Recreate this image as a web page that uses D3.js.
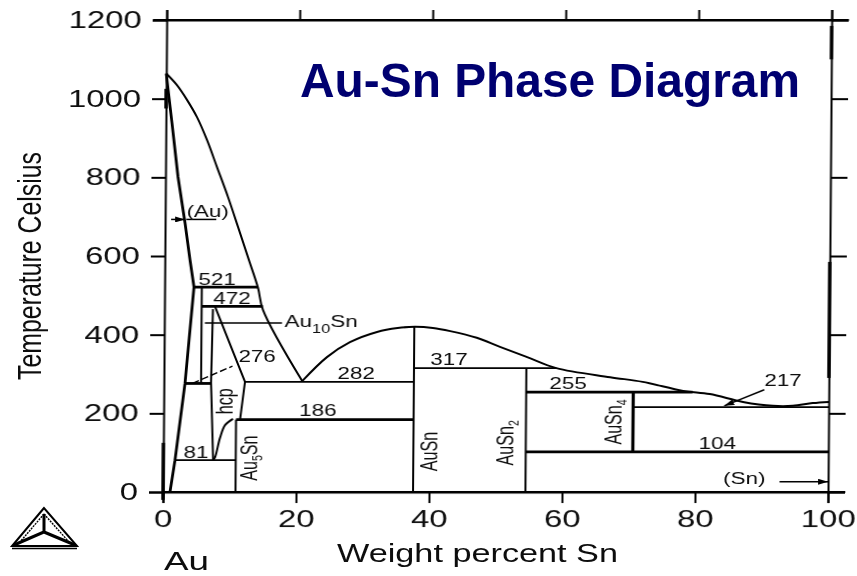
<!DOCTYPE html>
<html>
<head>
<title>Au-Sn Phase Diagram</title>
<script src="https://d3js.org/d3.v7.min.js"></script>
<style>
  html, body { margin: 0; padding: 0; background: #fff; }
  svg { display: block; }
  text { font-family: "Liberation Sans", Arial, sans-serif; fill: #111; }
  .axis text { font-size: 23px; }
  .axis line, .axis path { stroke: #000; stroke-width: 2; }
  path.curve { fill: none; stroke: #000; stroke-width: 2; }
</style>
</head>
<body>
<script>
// tick values
var xTicks = [0, 20, 40, 60, 80, 100];
var yTicks = [0, 200, 400, 600, 800, 1000, 1200];

// phase boundaries, [weight % Sn, temperature]
var liquidusAu = [[0,1064],[1.6,1035],[3.15,997],[4.67,953],[6.2,895],[7.74,826],[9.43,750],[10.97,674],[12.5,597],[14.05,519],[14.82,463],[20.8,282]];
var liquidusSn = [[20.8,282],[24.5,343],[27.94,381],[32,407],[35.1,417],[37.7,420],[40.4,417],[43,409],[47,392],[50.5,369],[54.6,343],[59,315],[67.1,292],[72,280],[78.1,257],[82.1,249],[87.1,229],[91.6,219],[94.6,219],[97.6,226],[100,229]];
var solidusAu = [[0,1064],[0.3,1022],[0.92,938],[1.89,801],[3,684],[3.79,590],[4.42,521],[3.18,276],[1.77,81],[1.05,0]];
var hcpRight = [[7.6,472],[12.2,280],[11.5,184]];
var hcpLeft = [[7.3,465],[7.1,277],[7.5,81]];
var hcpCurve = [[7.5,81],[7.8,89],[8.5,137],[9.25,170],[10.44,186]];

// isotherms [temperature, from x, to x, heavy]
var isotherms = [
  [521, 4.42, 14.0, 1],
  [472, 5.6, 14.8, 1],
  [276, 3.18, 7.1, 1],
  [280, 12.2, 37.6, 0],
  [184, 10.9, 37.6, 1],
  [81, 1.77, 10.9, 0],
  [315, 37.6, 59, 0],
  [254, 54.5, 79.5, 1],
  [216, 70.6, 100, 0],
  [102, 54.5, 100, 1]
];
// compound lines [x, from T, to T, heavy]
var compounds = [
  [5.6, 276, 521, 0],
  [10.9, 0, 184, 0],
  [37.6, 0, 420, 0],
  [54.5, 0, 315, 0],
  [70.6, 102, 254, 1]
];
// plain leaders [x1, T1, x2, T2]
var leaders = [
  [6.1, 430, 17.7, 430],
  [3.2, 693, 7.7, 693]
];
// leaders with an arrow head
var arrows = [
  [0.9, 693, 3, 693],
  [92.7, 26, 100, 26],
  [90.3, 260, 84.3, 219]
];
var dashedLeader = [[4.3, 276], [10.3, 320]];
// heavy blotches along the frame [x, from T, to T]
var heavyFrame = [[0, -20, 125], [0, 975, 1025], [100, 290, 585], [100, 1100, 1185]];

// horizontal labels [text, x, T]
var labels = [
  ["521", 7.88, 526], ["472", 10.15, 478], ["276", 14, 330], ["282", 28.9, 287],
  ["186", 23.2, 193], ["81", 4.92, 86], ["317", 42.86, 323], ["255", 60.8, 262],
  ["217", 93.1, 270], ["104", 83.3, 109], ["(Sn)", 87.4, 20], ["(Au)", 6.4, 699]
];
// rotated labels [text, subscript, trailing text, x, T]
var phaseLabels = [
  ["hcp", "", "", 10.4, 231],
  ["Au", "5", "Sn", 14.2, 86],
  ["AuSn", "", "", 41.2, 103],
  ["AuSn", "2", "", 52.7, 125],
  ["AuSn", "4", "", 68.9, 178]
];

var width = 857, height = 576;
var x = d3.scaleLinear().domain([0, 100]).range([163, 828]);
var y = d3.scaleLinear().domain([0, 1200]).range([492, 20]);

var svg = d3.select("body").append("svg").attr("width", width).attr("height", height);

var defs = svg.append("defs");
defs.append("filter").attr("id", "soft").append("feGaussianBlur").attr("stdDeviation", 0.35);
defs.append("marker").attr("id", "head").attr("viewBox", "0 0 10 6")
  .attr("refX", 10).attr("refY", 3).attr("markerWidth", 10).attr("markerHeight", 6)
  .attr("markerUnits", "userSpaceOnUse").attr("orient", "auto")
  .append("path").attr("d", "M0,0L10,3L0,6Z").attr("fill", "#000");

// the scanned plot leans a little to the right going up
var plot = svg.append("g").attr("filter", "url(#soft)")
  .attr("transform", "matrix(1,0,-0.0078,1,3.84,0)");

// axes
plot.append("g").attr("class", "axis").attr("transform", "translate(" + x(0) + ",0)")
  .call(d3.axisLeft(y).tickValues(yTicks).tickSize(14).tickPadding(11).tickFormat(d3.format("d")));
plot.append("g").attr("class", "axis").attr("transform", "translate(" + x(100) + ",0)")
  .call(d3.axisRight(y).tickValues(yTicks).tickSize(17).tickFormat(""));
plot.append("g").attr("class", "axis").attr("transform", "translate(0," + y(0) + ")")
  .call(d3.axisBottom(x).tickValues(xTicks).tickSize(11).tickPadding(8).tickFormat(d3.format("d")));
plot.append("g").attr("class", "axis").attr("transform", "translate(0," + y(1200) + ")")
  .call(d3.axisTop(x).tickValues(xTicks).tickSize(10).tickFormat(""));

// stretch the tick labels the way the scan has them
plot.selectAll(".axis text").each(function() {
  var t = d3.select(this), b = this.getBBox();
  var ax = t.style("text-anchor") === "end" ? b.x + b.width : b.x + b.width / 2;
  t.attr("transform", "translate(" + ax + ",0) scale(1.43,1) translate(" + (-ax) + ",0)");
});

// frame overhang past the corners
plot.append("line").attr("x1", x(-2)).attr("x2", x(102.6)).attr("y1", y(1200)).attr("y2", y(1200)).attr("stroke", "#000").attr("stroke-width", 2);
plot.append("line").attr("x1", x(0)).attr("x2", x(102.6)).attr("y1", y(0)).attr("y2", y(0)).attr("stroke", "#000").attr("stroke-width", 2);

plot.selectAll("line.heavy").data(heavyFrame).enter().append("line").attr("class", "heavy")
  .attr("x1", function(d) { return x(d[0]); }).attr("x2", function(d) { return x(d[0]); })
  .attr("y1", function(d) { return y(d[1]); }).attr("y2", function(d) { return y(d[2]); })
  .attr("stroke", "#000").attr("stroke-width", 3.4);

// phase boundaries
var line = d3.line().x(function(d) { return x(d[0]); }).y(function(d) { return y(d[1]); });
var smooth = d3.line().curve(d3.curveCatmullRom.alpha(0.5)).x(function(d) { return x(d[0]); }).y(function(d) { return y(d[1]); });
plot.selectAll("path.liq").data([liquidusAu, liquidusSn, hcpCurve]).enter()
  .append("path").attr("class", "curve liq").attr("d", smooth);
plot.selectAll("path.hcp").data([hcpRight, hcpLeft]).enter()
  .append("path").attr("class", "curve hcp").attr("d", line);
plot.append("path").attr("class", "curve").attr("d", line(solidusAu)).style("stroke-width", 2.8);

plot.selectAll("line.iso").data(isotherms).enter().append("line").attr("class", "iso")
  .attr("x1", function(d) { return x(d[1]); }).attr("x2", function(d) { return x(d[2]); })
  .attr("y1", function(d) { return y(d[0]); }).attr("y2", function(d) { return y(d[0]); })
  .attr("stroke", "#000").attr("stroke-width", function(d) { return d[3] ? 2.8 : 1.7; });

plot.selectAll("line.comp").data(compounds).enter().append("line").attr("class", "comp")
  .attr("x1", function(d) { return x(d[0]); }).attr("x2", function(d) { return x(d[0]); })
  .attr("y1", function(d) { return y(d[1]); }).attr("y2", function(d) { return y(d[2]); })
  .attr("stroke", "#000").attr("stroke-width", function(d) { return d[3] ? 3.2 : 2; });

plot.selectAll("line.lead").data(leaders).enter().append("line").attr("class", "lead")
  .attr("x1", function(d) { return x(d[0]); }).attr("y1", function(d) { return y(d[1]); })
  .attr("x2", function(d) { return x(d[2]); }).attr("y2", function(d) { return y(d[3]); })
  .attr("stroke", "#000").attr("stroke-width", 1.5);
plot.selectAll("line.arrow").data(arrows).enter().append("line").attr("class", "arrow")
  .attr("x1", function(d) { return x(d[0]); }).attr("y1", function(d) { return y(d[1]); })
  .attr("x2", function(d) { return x(d[2]); }).attr("y2", function(d) { return y(d[3]); })
  .attr("stroke", "#000").attr("stroke-width", 1.5).attr("marker-end", "url(#head)");
plot.append("path").attr("class", "curve").attr("d", line(dashedLeader))
  .style("stroke-width", 1.4).attr("stroke-dasharray", "7 3");

// labels
plot.selectAll("text.lab").data(labels).enter().append("text").attr("class", "lab")
  .attr("text-anchor", "middle").attr("font-size", 16.5)
  .attr("transform", function(d) { return "translate(" + x(d[1]) + "," + y(d[2]) + ") scale(1.36,1)"; })
  .text(function(d) { return d[0]; });

var au10 = plot.append("text").attr("font-size", 16.5)
  .attr("transform", "translate(" + x(18.1) + "," + y(420) + ") scale(1.36,1)");
au10.append("tspan").text("Au");
au10.append("tspan").attr("dy", 6).attr("font-size", 12).text("10");
au10.append("tspan").attr("dy", -6).text("Sn");

var phase = plot.selectAll("text.phase").data(phaseLabels).enter().append("text").attr("class", "phase")
  .attr("text-anchor", "middle").attr("font-size", 23)
  .attr("transform", function(d) { return "translate(" + x(d[3]) + "," + y(d[4]) + ") rotate(-90) scale(0.7,1)"; });
phase.append("tspan").text(function(d) { return d[0]; });
phase.append("tspan").attr("dy", 5).attr("font-size", 15).text(function(d) { return d[1]; });
phase.append("tspan").attr("dy", -5).text(function(d) { return d[2]; });

// titles
svg.append("text").attr("x", 300).attr("y", 97).attr("font-size", 48).attr("font-weight", "bold")
  .attr("textLength", 500).attr("lengthAdjust", "spacingAndGlyphs").style("fill", "#000070")
  .text("Au-Sn Phase Diagram");
var soft = svg.append("g").attr("filter", "url(#soft)");
soft.append("text").attr("transform", "translate(41,380) rotate(-90)").attr("font-size", 34)
  .attr("textLength", 228).attr("lengthAdjust", "spacingAndGlyphs").text("Temperature Celsius");
soft.append("text").attr("x", 337).attr("y", 562).attr("font-size", 25)
  .attr("textLength", 281).attr("lengthAdjust", "spacingAndGlyphs").text("Weight percent Sn");
soft.append("text").attr("x", 164).attr("y", 570).attr("font-size", 26)
  .attr("textLength", 45).attr("lengthAdjust", "spacingAndGlyphs").text("Au");

// Thermo-Calc logo
var logo = soft.append("g").attr("fill", "none").attr("stroke", "#000");
logo.append("path").attr("d", "M44,508L12,546H77Z").attr("stroke-width", 2);
logo.append("path").attr("d", "M44,514L20,542").attr("stroke-width", 1.4).attr("stroke-dasharray", "2 1");
logo.append("path").attr("d", "M44,514L69,542").attr("stroke-width", 1.4).attr("stroke-dasharray", "2 1");
logo.append("path").attr("d", "M44,514V532L14,545M44,532L75,545").attr("stroke-width", 3);
logo.append("path").attr("d", "M12,548.5H77").attr("stroke-width", 1.4);
</script>
</body>
</html>
